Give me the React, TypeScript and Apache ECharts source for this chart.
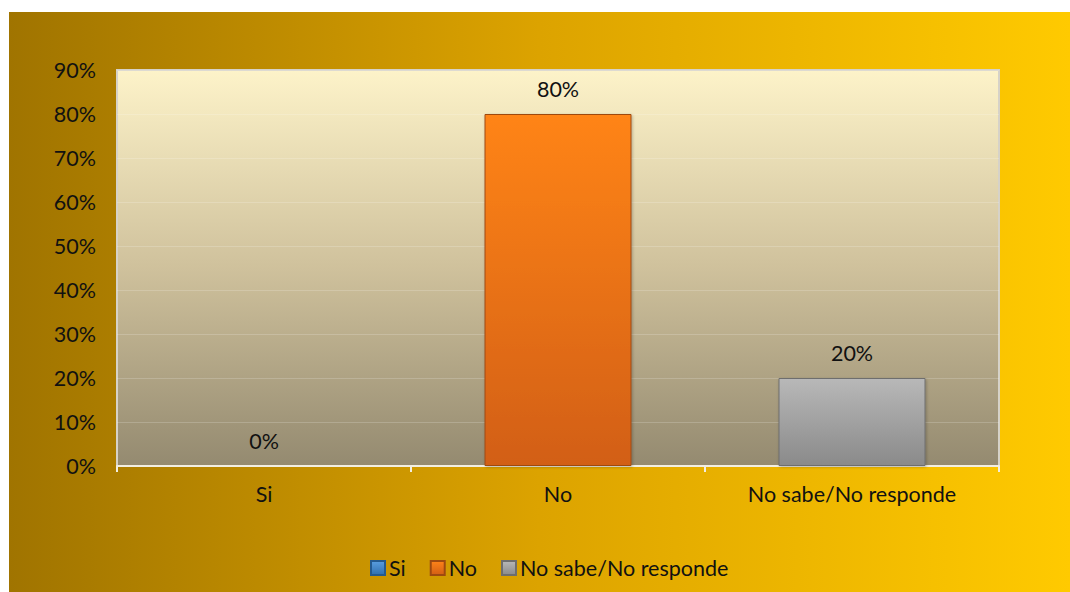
import React, { useEffect, useRef } from "react";
import * as echarts from "echarts";

const categories = ["Si", "No", "No sabe/No responde"];
const seriesNames = ["Si", "No", "No sabe/No responde"];
const values = [0, 80, 20];
const yTicks = [0, 10, 20, 30, 40, 50, 60, 70, 80, 90];

const FONT = "Lato, 'Open Sans', sans-serif";
const FS = 21.5;

const barColors = [
  { top: "#5a9ee0", bottom: "#2f6fae", border: "#245a8f" },
  { top: "#ff8419", bottom: "#d25f14", border: "#9e4a10" },
  { top: "#b8b8b8", bottom: "#8a8a8a", border: "#6e6e6e" },
];

export default function App() {
  const ref = useRef<HTMLDivElement>(null);
  useEffect(() => {
    if (!ref.current) return;
    const chart = echarts.init(ref.current, undefined, { renderer: "svg" });
    const series = seriesNames.map((name, i) => ({
      name,
      type: "bar",
      stack: "total",
      barWidth: "50%",
      data: categories.map((_, j) => (j === i ? values[i] : "-")),
      itemStyle: {
        color: new echarts.graphic.LinearGradient(0, 0, 0, 1, [
          { offset: 0, color: barColors[i].top },
          { offset: 1, color: barColors[i].bottom },
        ]),
        borderColor: barColors[i].border,
        borderWidth: 1,
        shadowColor: "rgba(0,0,0,0.25)",
        shadowBlur: 3,
        shadowOffsetX: 1,
        shadowOffsetY: 1,
      },
      label: {
        show: true,
        position: "top",
        distance: 14,
        formatter: (p: any) => `${p.value}%`,
        fontFamily: FONT,
        fontSize: FS,
        color: "#111",
      },
    }));
    chart.setOption({
      animation: false,
      backgroundColor: new echarts.graphic.LinearGradient(0, 0, 1, 0, [
        { offset: 0, color: "#a07400" },
        { offset: 0.5, color: "#dca300" },
        { offset: 1, color: "#ffca00" },
      ]),
      textStyle: { fontFamily: FONT },
      grid: {
        left: 108,
        top: 58,
        right: 71,
        bottom: 126,
        show: true,
        borderColor: "#d6d2c8",
        borderWidth: 2,
        backgroundColor: new echarts.graphic.LinearGradient(0, 0, 0, 1, [
          { offset: 0, color: "#fdf3c9" },
          { offset: 0.5, color: "#cfc19c" },
          { offset: 1, color: "#948a70" },
        ]),
      },
      legend: {
        left: 356,
        top: 540,
        itemWidth: 14,
        itemHeight: 14,
        itemGap: 24,
        icon: "rect",
        textStyle: { fontFamily: FONT, fontSize: FS, color: "#111", padding: [0, 0, 0, -1] },
        data: seriesNames,
      },
      xAxis: {
        type: "category",
        data: categories,
        axisLine: { show: true, lineStyle: { color: "#f2eee2", width: 2 } },
        axisTick: { show: true, length: 6, lineStyle: { color: "#f2eee2", width: 2 } },
        axisLabel: { fontFamily: FONT, fontSize: FS, color: "#111", margin: 17 },
      },
      yAxis: {
        type: "value",
        min: 0,
        max: yTicks[yTicks.length - 1],
        interval: 10,
        axisLine: { show: false },
        axisTick: { show: false },
        axisLabel: {
          fontFamily: FONT,
          fontSize: FS,
          color: "#111",
          margin: 21,
          formatter: (v: number) => `${v}%`,
        },
        splitLine: { lineStyle: { color: "rgba(255,255,255,0.18)", width: 1 } },
      },
      series,
    });
    return () => chart.dispose();
  }, []);
  return (
    <div
      ref={ref}
      style={{ position: "absolute", left: 9, top: 12, width: 1061, height: 580 }}
    />
  );
}
